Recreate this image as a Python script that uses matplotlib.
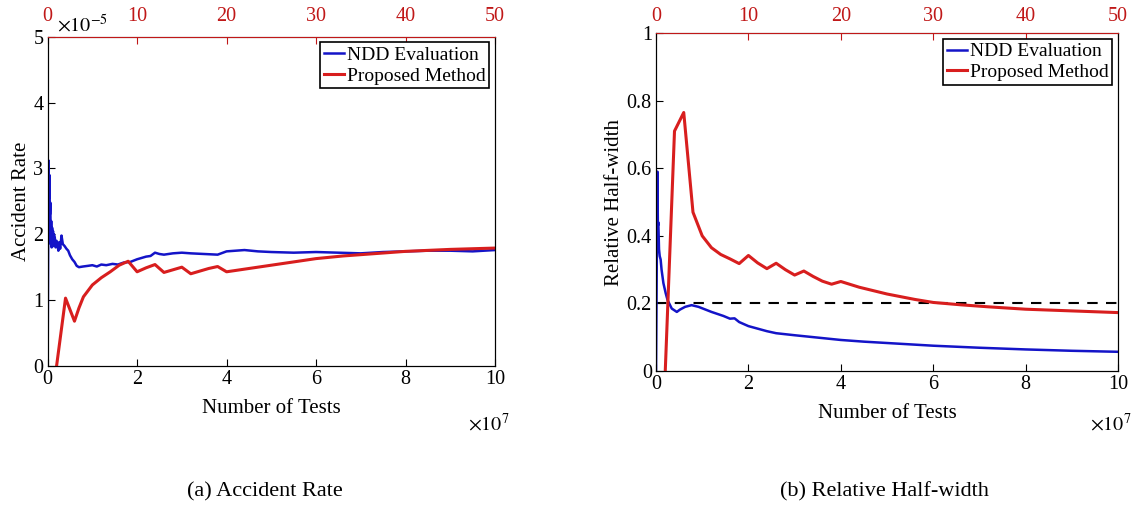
import matplotlib
matplotlib.use('Agg')
import matplotlib.pyplot as plt

plt.rcParams['font.family'] = ['Liberation Serif', 'DejaVu Serif']
plt.rcParams['mathtext.fontset'] = 'stix'

BLUE = '#1414c8'
RED = '#d81e1e'
TOPRED = '#c01818'

# ---- (a) Accident Rate, x in units of 1e7 (bottom axis), red uses top axis 0-50
blue_a_x = [0, 0.02, 0.03, 0.04, 0.05, 0.06, 0.07, 0.08, 0.09, 0.10,
            0.11, 0.12, 0.13, 0.14, 0.16, 0.18, 0.20, 0.22, 0.24, 0.26,
            0.28, 0.31, 0.34, 0.38, 0.42, 0.46, 0.50, 0.55, 0.60, 0.65,
            0.70, 0.79, 0.9, 1.0, 1.1, 1.2, 1.31, 1.45, 1.57, 1.7,
            1.85, 2.0, 2.1, 2.2, 2.3, 2.4, 2.5, 2.6, 2.8, 3.0,
            3.2, 3.5, 3.8, 4.0, 4.2, 4.4, 4.7, 5.0, 5.5, 6.0,
            6.5, 7.0, 7.5, 8.0, 8.5, 9.0, 9.5, 10.0]
blue_a_y = [0, 3.12, 2.55, 2.9, 2.3, 2.48, 1.85, 2.2, 1.8, 2.1,
            1.9, 2.05, 1.82, 2.0, 1.95, 1.8, 1.9, 1.85, 1.75, 1.88,
            1.78, 1.98, 1.85, 1.82, 1.78, 1.75, 1.68, 1.62, 1.58, 1.52,
            1.50, 1.51, 1.52, 1.53, 1.51, 1.54, 1.53, 1.55, 1.54, 1.57,
            1.58, 1.62, 1.64, 1.66, 1.67, 1.72, 1.70, 1.69, 1.71, 1.72,
            1.71, 1.70, 1.69, 1.74, 1.75, 1.76, 1.74, 1.73, 1.72, 1.73,
            1.72, 1.71, 1.73, 1.74, 1.75, 1.75, 1.74, 1.76]
red_a_x = [1, 2, 3, 3.5, 4, 5, 6, 7, 8, 9, 10, 11, 12, 13, 14, 15, 16, 17, 18, 19,
           20, 22, 25, 28, 30, 33, 36, 40, 45, 50]
red_a_y = [0, 1.03, 0.68, 0.88, 1.05, 1.23, 1.34, 1.43, 1.53, 1.59, 1.43, 1.49, 1.54,
           1.42, 1.46, 1.50, 1.40, 1.44, 1.48, 1.51, 1.43, 1.47, 1.53, 1.59, 1.63,
           1.67, 1.70, 1.74, 1.77, 1.79]

# ---- (b) Relative Half-width
blue_b_x = [0, 0.03, 0.04, 0.05, 0.065, 0.08, 0.1, 0.12, 0.16, 0.21,
            0.25, 0.34, 0.45, 0.52, 0.63, 0.77, 0.92, 1.2, 1.46, 1.6,
            1.7, 1.8, 2.0, 2.4, 2.6, 3.0, 3.5, 4.0, 4.5, 5.0,
            5.5, 6.0, 7.0, 8.0, 9.0, 10.0]
blue_b_y = [0, 0.59, 0.43, 0.44, 0.36, 0.34, 0.33, 0.30, 0.26, 0.23,
            0.21, 0.185, 0.175, 0.182, 0.19, 0.195, 0.19, 0.175, 0.163, 0.155,
            0.156, 0.145, 0.133, 0.118, 0.112, 0.106, 0.099, 0.092, 0.087, 0.083,
            0.079, 0.075, 0.069, 0.064, 0.060, 0.057]
red_b_x = [1, 2, 3, 4, 5, 6, 7, 8, 9, 10, 11, 12, 13, 14, 15, 16, 17, 18, 19, 20,
           22, 25, 28, 30, 33, 36, 40, 45, 50]
red_b_y = [0, 0.71, 0.765, 0.47, 0.40, 0.365, 0.345, 0.332, 0.318, 0.342,
           0.32, 0.303, 0.319, 0.30, 0.284, 0.296, 0.28, 0.266, 0.257, 0.265,
           0.248, 0.228, 0.212, 0.203, 0.196, 0.19, 0.183, 0.178, 0.173]
threshold = 0.2

bottom_ticks = [0, 2, 4, 6, 8, 10]
top_ticks = [0, 10, 20, 30, 40, 50]

fig = plt.figure(figsize=(11.34, 5.09), dpi=100)
ax_a = fig.add_axes([0.042, 0.281, 0.3945, 0.647])
ax_b = fig.add_axes([0.5785, 0.271, 0.4074, 0.664])

FS = 14.5


def style(ax, ylim, yticks, ylabels, toppad):
    ax.set_xlim(0, 10)
    ax.set_ylim(*ylim)
    ax.set_xticks(bottom_ticks)
    ax.set_yticks(yticks)
    ax.set_yticklabels(ylabels)
    ax.tick_params(direction='in', labelsize=FS, length=5, top=False, right=False, pad=3)
    ax.set_xlabel('Number of Tests', fontsize=FS + 0.5, labelpad=7)
    top = ax.twiny()
    top.set_xlim(0, 50)
    top.set_xticks(top_ticks)
    top.tick_params(direction='in', labelsize=FS, length=5, colors=TOPRED, pad=toppad)
    top.spines['top'].set_color(TOPRED)
    return top


top_a = style(ax_a, (0, 5), [0, 1, 2, 3, 4, 5], ['0', '1', '2', '3', '4', '5'], 8)
ax_a.set_ylabel('Accident Rate', fontsize=FS + 0.5, labelpad=2)
l1, = ax_a.plot(blue_a_x, blue_a_y, color=BLUE, lw=1.8, label='NDD Evaluation')
l2, = top_a.plot(red_a_x, red_a_y, color=RED, lw=2.2, label='Proposed Method')
ax_a.text(0.02, 1.0, r'$\times10^{-5}$', transform=ax_a.transAxes, fontsize=FS,
          va='bottom', ha='left')
ax_a.text(0.94, -0.145, r'$\times10^{7}$', transform=ax_a.transAxes, fontsize=FS,
          va='top', ha='left')
leg = top_a.legend([l1, l2], ['NDD Evaluation', 'Proposed Method'], loc='upper right',
                   fontsize=14, fancybox=False, edgecolor='black', framealpha=1,
                   handlelength=1.0, handletextpad=0.15, borderpad=0.2,
                   borderaxespad=0.3, labelspacing=0.15)
leg.get_frame().set_linewidth(1.2)

top_b = style(ax_b, (0, 1), [0, 0.2, 0.4, 0.6, 0.8, 1], ['0', '0.2', '0.4', '0.6', '0.8', '1'], 5)
ax_b.set_ylabel('Relative Half-width', fontsize=FS + 0.5, labelpad=2)
ax_b.axhline(threshold, color='black', lw=1.5, ls=(0, (5, 4)))
m1, = ax_b.plot(blue_b_x, blue_b_y, color=BLUE, lw=1.8)
m2, = top_b.plot(red_b_x, red_b_y, color=RED, lw=2.2)
ax_b.text(0.94, -0.125, r'$\times10^{7}$', transform=ax_b.transAxes, fontsize=FS,
          va='top', ha='left')
leg = top_b.legend([m1, m2], ['NDD Evaluation', 'Proposed Method'], loc='upper right',
                   fontsize=14, fancybox=False, edgecolor='black', framealpha=1,
                   handlelength=1.0, handletextpad=0.15, borderpad=0.2,
                   borderaxespad=0.3, labelspacing=0.15)
leg.get_frame().set_linewidth(1.2)

fig.text(0.234, 0.033, '(a) Accident Rate', fontsize=16, ha='center', va='center')
fig.text(0.78, 0.033, '(b) Relative Half-width', fontsize=16, ha='center', va='center')

fig.savefig('out.png', dpi=100)
